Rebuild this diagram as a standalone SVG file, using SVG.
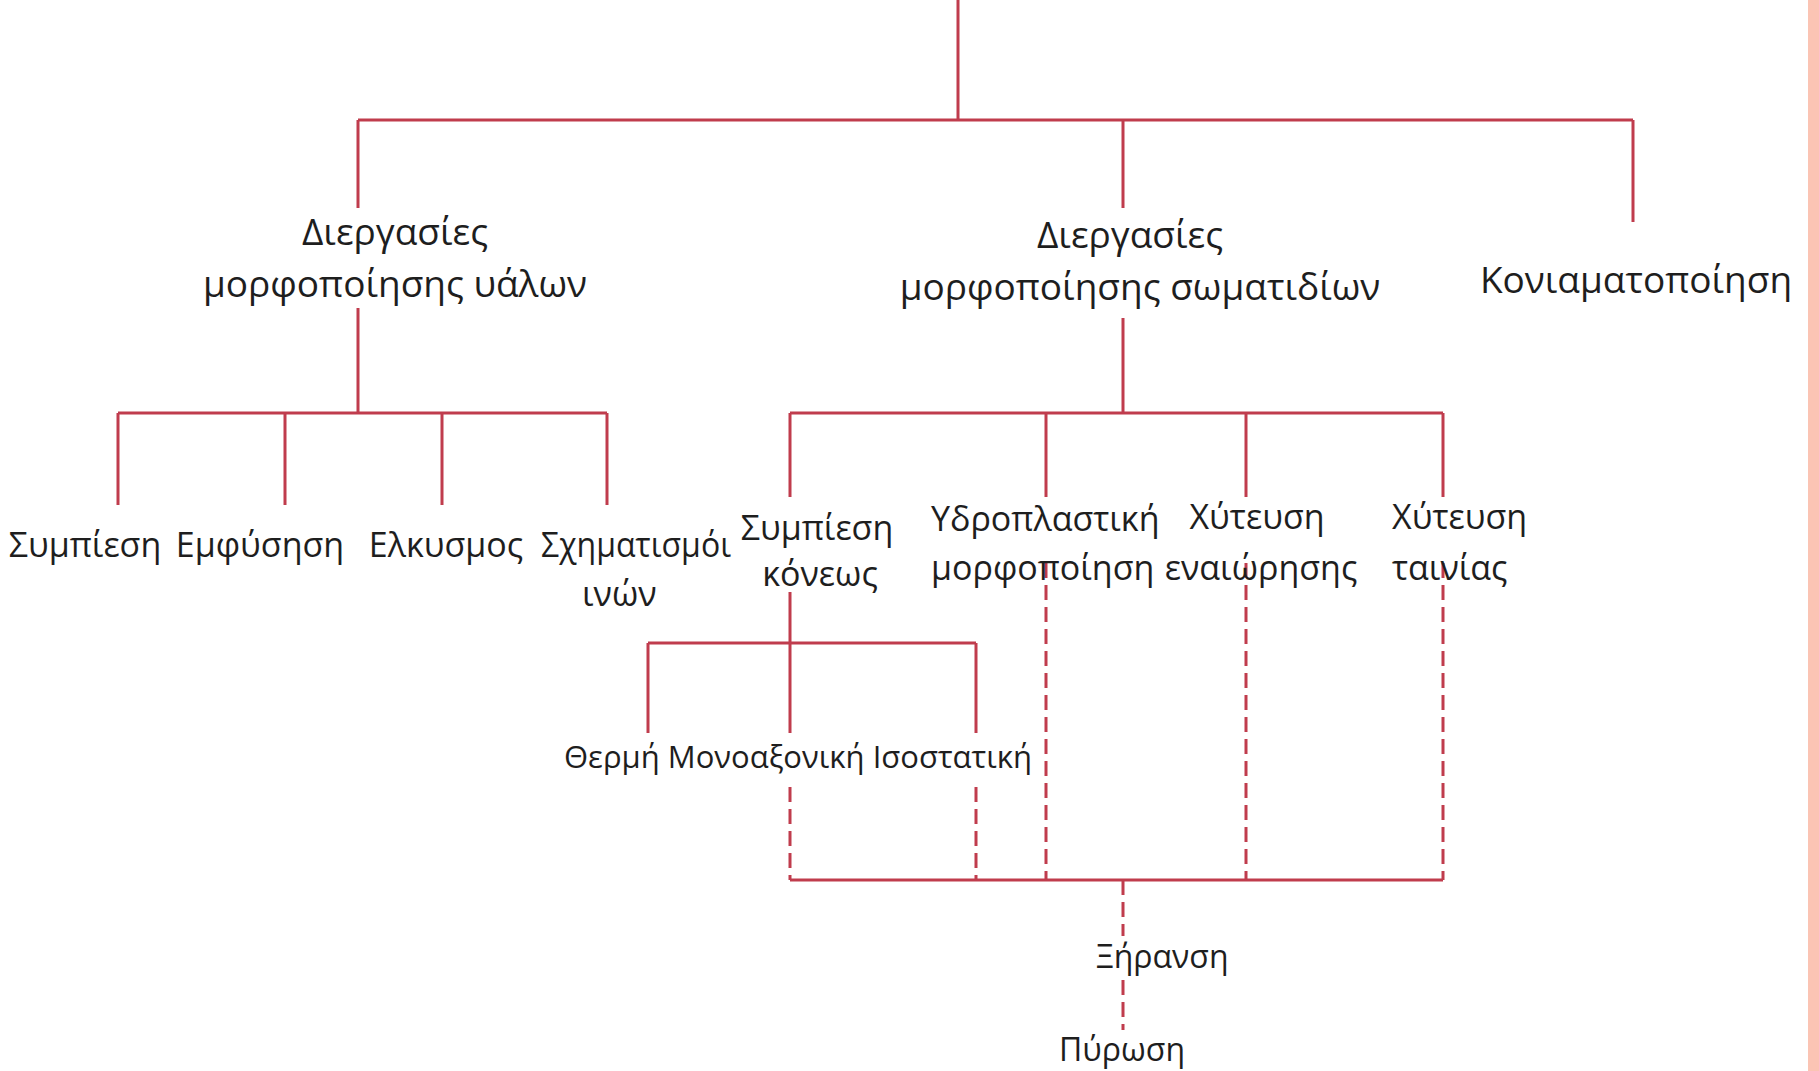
<svg xmlns="http://www.w3.org/2000/svg" width="1819" height="1071" viewBox="0 0 1819 1071">
<style>
.bg{fill:#ffffff}
.border{fill:#fbc4b4}
.ln{stroke:#c03c4d;stroke-width:3;fill:none;stroke-linecap:butt}
.dash{stroke:#c03c4d;stroke-width:3;fill:none;stroke-dasharray:15 7}
text{font-family:"Open Sans","Noto Sans","DejaVu Sans",sans-serif;fill:#1e1e1e}
.t1{font-size:37px}
.t2{font-size:34px}
.t3{font-size:31px}
.t4{font-size:32px}
.mid{text-anchor:middle}
</style>
<rect class="bg" x="0" y="0" width="1819" height="1071"/>
<rect class="border" x="1808" y="0" width="11" height="1071"/>
<g id="connectors">
<path class="ln" d="M958 0V120M358 120H1633M358 120V208M1123 120V208M1633 120V222"/>
<path class="ln" d="M358 308V413M118 413H607M118 413V505M285 413V505M442 413V505M607 413V505"/>
<path class="ln" d="M1123 318V413M790 413H1443M790 413V497M1046 413V497M1246 413V497M1443 413V497"/>
<path class="ln" d="M790 592V733M648 643H976M648 643V733M976 643V733"/>
<path class="ln" d="M790 880H1443"/>
<path class="dash" d="M790 787V880M976 787V880M1046 563V880M1246 563V880M1443 563V880"/>
<path class="dash" d="M1123 880V936M1123 980V1030"/>
</g>
<g id="n_yalon"><text class="t1 mid" x="395" y="245">Διεργασίες</text><text class="t1 mid" x="395" y="297">μορφοποίησης υάλων</text></g>
<g id="n_somatidion"><text class="t1 mid" x="1130" y="248">Διεργασίες</text><text class="t1 mid" x="1140" y="300">μορφοποίησης σωματιδίων</text></g>
<g id="n_koniam"><text class="t1 mid" x="1636" y="293">Κονιαματοποίηση</text></g>
<g id="n_sympiesi1"><text class="t2 mid" x="85" y="557">Συμπίεση</text></g>
<g id="n_emfysisi"><text class="t2 mid" x="260" y="557">Εμφύσηση</text></g>
<g id="n_elkysmos"><text class="t2 mid" x="446" y="557">Ελκυσμος</text></g>
<g id="n_schimatismos"><text class="t2" x="541" y="557" textLength="190" lengthAdjust="spacingAndGlyphs">Σχηματισμόι</text><text class="t2" x="582" y="606">ινών</text></g>
<g id="n_sympiesi_konews"><text class="t2 mid" x="817" y="540">Συμπίεση</text><text class="t2 mid" x="820" y="586">κόνεως</text></g>
<g id="n_ydroplastiki"><text class="t2" x="931" y="531">Υδροπλαστική</text><text class="t2" x="931" y="580">μορφοποίηση</text></g>
<g id="n_xyt_enaiorisis"><text class="t2 mid" x="1257" y="529">Χύτευση</text><text class="t2 mid" x="1261" y="580">εναιώρησης</text></g>
<g id="n_xyt_tainias"><text class="t2" x="1392" y="529">Χύτευση</text><text class="t2" x="1392" y="580">ταινίας</text></g>
<g id="n_thermi"><text class="t3" x="564" y="768">Θερμή Μονοαξονική Ισοστατική</text></g>
<g id="n_xiransi"><text class="t4" x="1096" y="968">Ξήρανση</text></g>
<g id="n_pyrosi"><text class="t4" x="1059" y="1061">Πύρωση</text></g>
</svg>
